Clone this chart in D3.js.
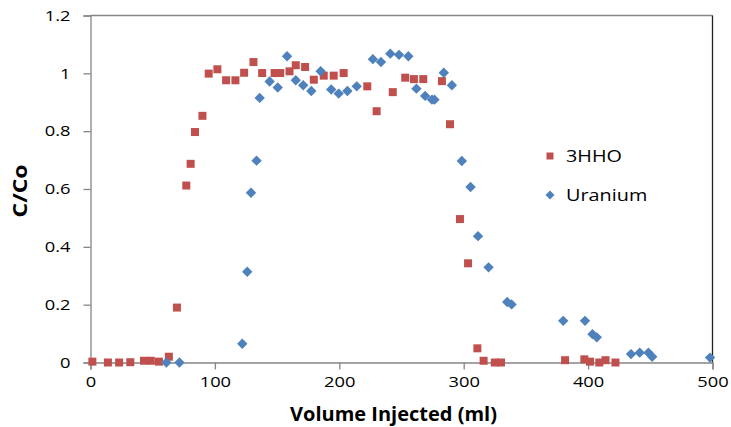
<!DOCTYPE html>
<html>
<head>
<meta charset="utf-8">
<script src="https://cdn.jsdelivr.net/npm/d3@7"></script>
<style>
  html, body { margin: 0; padding: 0; background: #fff; }
  svg text { font-family: "Open Sans", "Noto Sans", sans-serif; fill: #000; }
</style>
</head>
<body>
<svg id="chart" width="731" height="427"></svg>
<script>
// Breakthrough data: relative concentration C/Co against injected volume (ml)
const hhoVolume = [1.5, 14, 23, 32, 43, 48.5, 55, 63, 69.5, 77, 80.5, 84, 90, 95, 102, 109, 116.5, 123.5, 131, 138,
  148, 152.5, 160, 165, 172.5, 179.5, 187.5, 195.5, 203.5, 222.5, 230, 243, 253, 260, 267.5, 282.5, 289, 297,
  303.5, 311, 316, 325, 330, 381.5, 397, 401.5, 409, 414, 422];
const hhoCC = [0.003, 0, 0, 0.001, 0.006, 0.006, 0.003, 0.02, 0.19, 0.612, 0.687, 0.797, 0.853, 0.999, 1.014, 0.976,
  0.976, 1.002, 1.039, 1.001, 1.001, 1.001, 1.007, 1.028, 1.022, 0.978, 0.992, 0.992, 1.001, 0.955, 0.869, 0.935,
  0.985, 0.98, 0.98, 0.973, 0.824, 0.496, 0.343, 0.049, 0.006, 0, 0, 0.008, 0.011, 0.003, 0, 0.008, 0];

const uVolume = [61, 71.5, 122, 126, 129, 133.5, 136, 144, 150.5, 158, 165, 171, 177.5, 185, 193.5, 199.5, 206.5,
  214, 227, 233.5, 241, 248, 255.5, 262, 269, 274.5, 276.5, 284, 290.5, 298.5, 305.5, 311.5, 320, 335, 338.5, 380,
  397.5, 403.5, 407, 434.5, 441.5, 448.5, 451.5, 498];
const uCC = [0, 0, 0.065, 0.314, 0.587, 0.698, 0.915, 0.972, 0.951, 1.059, 0.976, 0.959, 0.939, 1.007, 0.944, 0.93,
  0.939, 0.955, 1.049, 1.039, 1.068, 1.064, 1.059, 0.947, 0.922, 0.909, 0.909, 1.002, 0.959, 0.697, 0.607, 0.437,
  0.329, 0.209, 0.201, 0.144, 0.144, 0.098, 0.087, 0.029, 0.034, 0.034, 0.02, 0.017];

const seriesNames = ["3HHO", "Uranium"];
const seriesColors = ["#C0504D", "#4F81BD"];
const xTicks = [0, 100, 200, 300, 400, 500];
const yTicks = [0, 0.2, 0.4, 0.6, 0.8, 1, 1.2];
const xTitle = "Volume Injected (ml)";
const yTitle = "C/Co";

const svg = d3.select("#chart");
const plot = { left: 90.5, right: 712.5, top: 15.5, bottom: 362.5 };

const x = d3.scaleLinear().domain([0, 500]).range([plot.left, plot.right]);
const y = d3.scaleLinear().domain([0, 1.2]).range([plot.bottom, plot.top]);

const axisColor = "#868686";
const textStretch = 1.22;   // labels are set wide

// widen a text element along its own reading direction, keeping its anchor point
function widen(sel, sx) {
  sel.each(function () {
    const t = d3.select(this);
    const tx = +t.attr("x") || 0, ty = +t.attr("y") || 0;
    t.attr("x", 0).attr("y", 0).attr("transform", `translate(${tx},${ty}) scale(${sx},1)`);
  });
}

// plot-area frame: top edge grey, right edge dark
svg.append("line")
  .attr("x1", plot.left).attr("x2", plot.right)
  .attr("y1", plot.top).attr("y2", plot.top)
  .attr("stroke", axisColor).attr("stroke-width", 1.3);
svg.append("line")
  .attr("x1", plot.right).attr("x2", plot.right)
  .attr("y1", plot.top).attr("y2", plot.bottom)
  .attr("stroke", "#222").attr("stroke-width", 1.3);

// y axis
const yAxis = svg.append("g")
  .attr("transform", `translate(${plot.left},0)`)
  .call(d3.axisLeft(y).tickValues(yTicks).tickSize(7).tickPadding(13)
    .tickFormat(d => d3.format("~g")(d)));
// x axis
const xAxis = svg.append("g")
  .attr("transform", `translate(0,${plot.bottom})`)
  .call(d3.axisBottom(x).tickValues(xTicks).tickSize(7).tickPadding(7)
    .tickFormat(d3.format("d")));

[yAxis, xAxis].forEach(g => {
  g.select(".domain").attr("stroke", axisColor).attr("stroke-width", 1.3);
  g.selectAll(".tick line").attr("stroke", axisColor).attr("stroke-width", 1.3);
  g.selectAll(".tick text").attr("font-size", 15).attr("fill", "#222")
    .style("font-family", "'Open Sans', sans-serif")
    .call(widen, textStretch);
});

// axis titles
svg.append("text")
  .attr("x", (plot.left + plot.right) / 2 - 8).attr("y", 421)
  .attr("text-anchor", "middle").attr("font-size", 20).attr("font-weight", "bold")
  .text(xTitle);
svg.append("text")
  .attr("transform", `translate(27,${(plot.top + plot.bottom) / 2 + 2}) rotate(-90) scale(1.15,1)`)
  .attr("text-anchor", "middle").attr("font-size", 20).attr("font-weight", "bold")
  .text(yTitle);

// marker shapes
const squarePath = s => `M${-s / 2},${-s / 2}h${s}v${s}h${-s}Z`;
const diamondPath = r => `M0,${-r}L${r},0L0,${r}L${-r},0Z`;

const hhoPts = hhoVolume.map((v, i) => ({ v, c: hhoCC[i] }));
const uPts = uVolume.map((v, i) => ({ v, c: uCC[i] }));

svg.append("g").selectAll("path").data(hhoPts).join("path")
  .attr("transform", d => `translate(${x(d.v)},${y(d.c)})`)
  .attr("d", squarePath(8))
  .attr("fill", seriesColors[0]);

svg.append("g").selectAll("path").data(uPts).join("path")
  .attr("transform", d => `translate(${x(d.v)},${y(d.c)})`)
  .attr("d", diamondPath(5.2))
  .attr("fill", seriesColors[1]);

// legend
const legend = svg.append("g").attr("transform", "translate(550,0)");
const legendRows = [{ name: seriesNames[0], color: seriesColors[0], d: squarePath(7), cy: 156 },
                    { name: seriesNames[1], color: seriesColors[1], d: diamondPath(4.5), cy: 195 }];
legendRows.forEach(r => {
  legend.append("path").attr("transform", `translate(0,${r.cy})`).attr("d", r.d).attr("fill", r.color);
  legend.append("text").attr("x", 16).attr("y", r.cy + 6)
    .attr("font-size", 16).attr("fill", "#222").text(r.name)
    .call(widen, 1.24);
});
</script>
</body>
</html>
